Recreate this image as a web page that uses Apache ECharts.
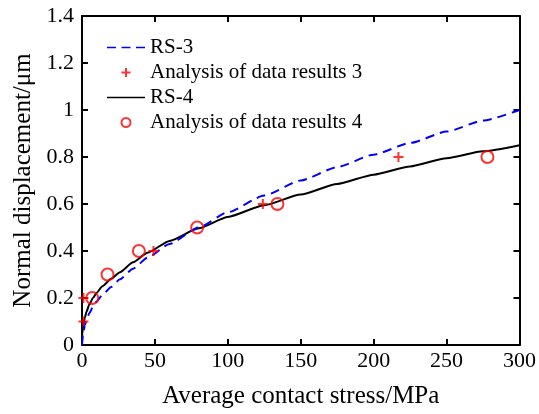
<!DOCTYPE html>
<html>
<head>
<meta charset="utf-8">
<script src="https://cdn.jsdelivr.net/npm/echarts@6/dist/echarts.min.js"></script>
<style>html,body{margin:0;padding:0;background:#fff}#c{width:539px;height:414px}</style>
</head>
<body>
<div id="c"></div>
<script>
// RS-3 fitted curve
const rs3X = [0, 0.25, 0.5, 1, 2, 3, 5, 7.5, 10, 14, 20, 26, 35, 45, 60, 80, 100, 125, 150, 175, 200, 225, 250, 275, 300];
const rs3Y = [0, 0.02, 0.035, 0.055, 0.085, 0.105, 0.135, 0.162, 0.185, 0.213, 0.247, 0.28, 0.325, 0.372, 0.43, 0.5, 0.565, 0.636, 0.70, 0.757, 0.81, 0.86, 0.908, 0.955, 1.0];
// RS-4 fitted curve
const rs4X = [0, 0.25, 0.5, 1, 2, 3, 5, 7.5, 10, 14, 20, 26, 35, 45, 60, 80, 100, 125, 150, 175, 200, 225, 250, 275, 300];
const rs4Y = [0, 0.05, 0.065, 0.088, 0.117, 0.14, 0.172, 0.2, 0.222, 0.25, 0.282, 0.31, 0.352, 0.393, 0.443, 0.497, 0.545, 0.595, 0.64, 0.685, 0.725, 0.76, 0.795, 0.824, 0.85];
// Analysis of data results 3 (+)
const d3X = [1, 1, 49, 124, 217];
const d3Y = [0.1, 0.2, 0.4, 0.6, 0.8];
// Analysis of data results 4 (o)
const d4X = [7, 17.5, 39, 79, 134, 278];
const d4Y = [0.2, 0.3, 0.4, 0.5, 0.6, 0.8];

const xTicks = {min: 0, max: 300, interval: 50};
const yTicks = {min: 0, max: 1.4, interval: 0.2};
const names = ['RS-3', 'Analysis of data results 3', 'RS-4', 'Analysis of data results 4'];

const zip = (a, b) => a.map((v, i) => [v, b[i]]);
const FONT = '"Liberation Serif", "Times New Roman", serif';
const plus = 'path://M0,5L10,5M5,0L5,10';
// legend icons: thin (dashed / solid) line, with tiny corner anchors to keep the box
const anchors = 'M0,0h0.01v0.01h-0.01Z M0,8h0.01v0.01h-0.01Z ';
const dashIcon = 'path://' + anchors + 'M0,3.2H9V4.8H0Z M14.5,3.2H23.5V4.8H14.5Z M29,3.2H38V4.8H29Z';
const solidIcon = 'path://' + anchors + 'M0,3.2H38V4.8H0Z';

const axisCommon = {
  axisLine: {show: true, onZero: false, lineStyle: {color: '#000', width: 2}},
  axisTick: {show: true, inside: true, length: 6, lineStyle: {color: '#000', width: 2}},
  splitLine: {show: false}
};

const chart = echarts.init(document.getElementById('c'), null, {renderer: 'canvas'});
chart.setOption({
  animation: false,
  backgroundColor: '#fff',
  grid: {left: 82, right: 17, top: 16, bottom: 65},
  legend: {
    orient: 'vertical', left: 107, top: 37, padding: 0,
    itemWidth: 38, itemHeight: 9, itemGap: 4,
    textStyle: {fontFamily: FONT, fontSize: 21, color: '#000'},
    data: [
      {name: names[0], icon: dashIcon, itemStyle: {color: '#0000ff', borderWidth: 0}},
      {name: names[1]},
      {name: names[2], icon: solidIcon, itemStyle: {color: '#000', borderWidth: 0}},
      {name: names[3]}
    ]
  },
  xAxis: [
    Object.assign({type: 'value', position: 'bottom', min: xTicks.min, max: xTicks.max, interval: xTicks.interval,
      name: 'Average contact stress/MPa', nameLocation: 'middle', nameGap: 39,
      nameTextStyle: {fontFamily: FONT, fontSize: 25, color: '#000'},
      axisLabel: {fontFamily: FONT, fontSize: 22, color: '#000', margin: 5}}, axisCommon),
    Object.assign({type: 'value', position: 'top', min: xTicks.min, max: xTicks.max, interval: xTicks.interval,
      axisLabel: {show: false}}, axisCommon)
  ],
  yAxis: [
    Object.assign({type: 'value', position: 'left', min: yTicks.min, max: yTicks.max, interval: yTicks.interval,
      name: 'Normal displacement/μm', nameLocation: 'middle', nameGap: 46,
      nameTextStyle: {fontFamily: FONT, fontSize: 25, color: '#000'},
      axisLabel: {fontFamily: FONT, fontSize: 22, color: '#000', margin: 8}}, axisCommon),
    Object.assign({type: 'value', position: 'right', min: yTicks.min, max: yTicks.max, interval: yTicks.interval,
      axisLabel: {show: false}}, axisCommon)
  ],
  series: [
    {name: names[0], type: 'line', data: zip(rs3X, rs3Y), showSymbol: false, symbol: 'none',
      smooth: 0.2, smoothMonotone: 'x',
      lineStyle: {color: '#0000ff', width: 2, type: [9, 6]}, itemStyle: {color: '#0000ff'}, z: 3},
    {name: names[1], type: 'scatter', data: zip(d3X, d3Y), symbol: plus, symbolSize: 10,
      itemStyle: {color: 'none', borderColor: '#ff0000', borderWidth: 2}, z: 4},
    {name: names[2], type: 'line', data: zip(rs4X, rs4Y), showSymbol: false, symbol: 'none',
      smooth: 0.2, smoothMonotone: 'x',
      lineStyle: {color: '#000', width: 2}, itemStyle: {color: '#000'}, z: 2},
    {name: names[3], type: 'scatter', data: zip(d4X, d4Y), symbol: 'circle', symbolSize: 12,
      itemStyle: {color: 'none', borderColor: '#ff0000', borderWidth: 2}, z: 4}
  ]
});
</script>
</body>
</html>
